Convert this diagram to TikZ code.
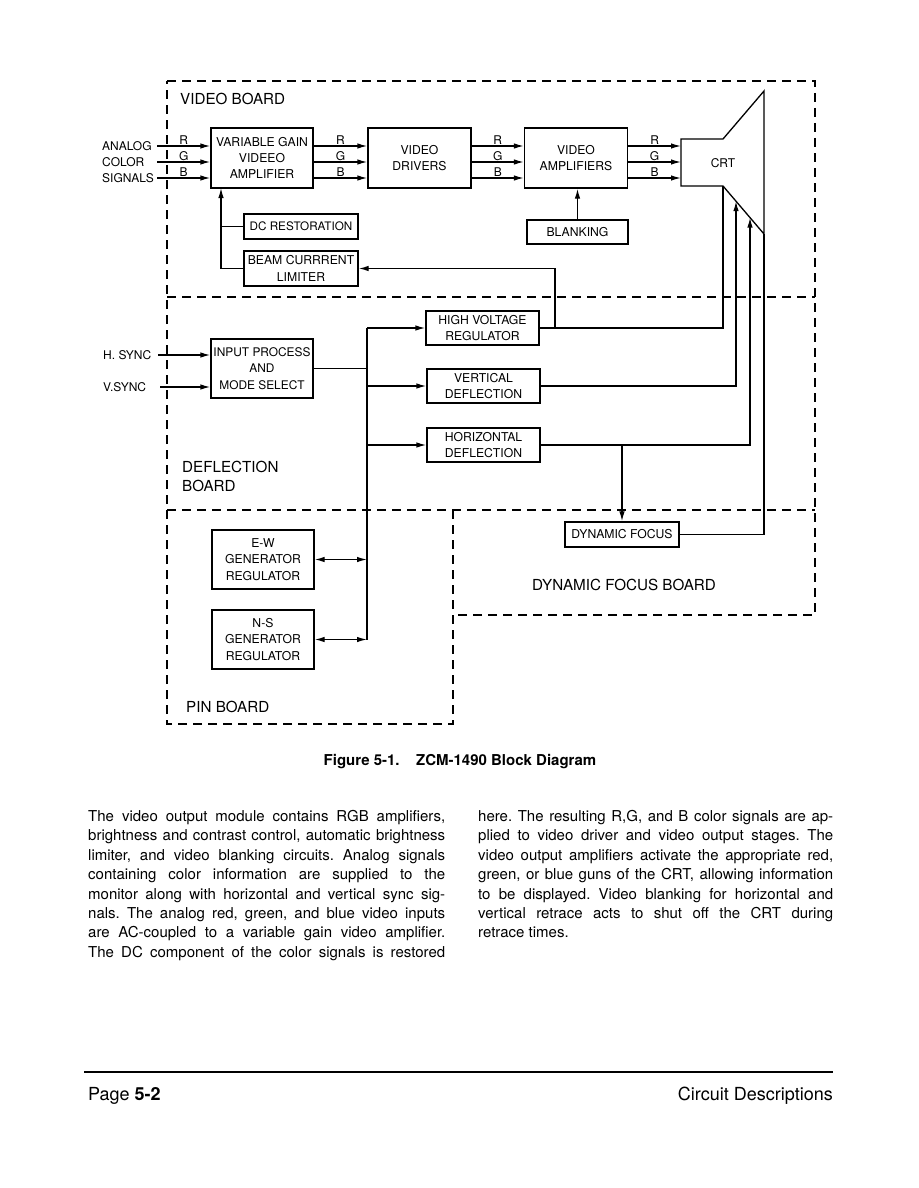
\documentclass[tikz,border=0pt]{standalone}
\usepackage{fontspec}
\setmainfont{TeX Gyre Heros}
\usetikzlibrary{arrows.meta}
\newcommand\myboxfont{\fontsize{12.2}{16.2}\selectfont}
\newcommand\mylblfont{\fontsize{12}{14}\selectfont}
\newcommand\myboardfont{\fontsize{15.2}{19}\selectfont}
\newcommand\mybodyfont{\fontsize{15}{19.4}\selectfont\frenchspacing}
\begin{document}
\begin{tikzpicture}[x=1pt,y=-1pt,
  box/.style={draw, line width=1.3pt, inner sep=0pt, align=center, font=\myboxfont},
  ln/.style={line width=1.3pt},
  arr/.style={ln, -{Latex[length=10pt,width=5.5pt]}},
  darr/.style={ln, {Latex[length=10pt,width=5.5pt]}-{Latex[length=10pt,width=5.5pt]}},
  dsh/.style={line width=2.2pt, dash pattern=on 9pt off 6pt},
  lbl/.style={font=\mylblfont, inner sep=1pt},
  brd/.style={font=\myboardfont, inner sep=0pt, align=left},
]
\useasboundingbox (0,0) rectangle (918,1188);
\fill[white] (0,0) rectangle (918,1188);

% dashed board outlines
\draw[dsh] (167,81) -- (815,81) -- (815,615) -- (453,615);
\draw[dsh] (453,510) -- (453,724) -- (167,724) -- (167,81);
\draw[dsh] (167,297) -- (815,297);
\draw[dsh] (167,510) -- (815,510);

% board labels
\node[brd, anchor=west] (lvid) at (180,99) {VIDEO BOARD};
\node[brd, anchor=west] (ldef) at (182,476.5) {DEFLECTION\\BOARD};
\node[brd, anchor=west] (lpin) at (186,707) {PIN BOARD};
\node[brd] (ldyn) at (624,585) {DYNAMIC FOCUS BOARD};

% blocks
\node[box, minimum width=102, minimum height=60] (vga) at (262,158) {VARIABLE GAIN\\VIDEEO\\AMPLIFIER};
\node[box, minimum width=103, minimum height=60] (vdr) at (419.5,158) {VIDEO\\DRIVERS};
\node[box, minimum width=103, minimum height=60] (vamp) at (576,158) {VIDEO\\AMPLIFIERS};
\node[box, minimum width=101, minimum height=24] (blank) at (577.5,232) {BLANKING};
\node[box, minimum width=114, minimum height=25, font=\fontsize{11.7}{14}\selectfont] (dcr) at (301,226.5) {DC RESTORATION};
\node[box, minimum width=114, minimum height=35] (bcl) at (301,268.5) {BEAM CURRRENT\\LIMITER};
\node[box, minimum width=102, minimum height=59, font=\fontsize{11.9}{16.2}\selectfont] (inp) at (262,368.5) {INPUT PROCESS\\AND\\MODE SELECT};
\node[box, minimum width=113, minimum height=34] (hvr) at (482.5,328) {HIGH VOLTAGE\\REGULATOR};
\node[box, minimum width=113, minimum height=34] (vdef) at (483.5,386) {VERTICAL\\DEFLECTION};
\node[box, minimum width=113, minimum height=34] (hdef) at (483.5,445) {HORIZONTAL\\DEFLECTION};
\node[box, minimum width=114, minimum height=25] (dyf) at (622,534.5) {DYNAMIC FOCUS};
\node[box, minimum width=102, minimum height=59] (ew) at (263,559.5) {E-W\\GENERATOR\\REGULATOR};
\node[box, minimum width=102, minimum height=59] (ns) at (263,639.5) {N-S\\GENERATOR\\REGULATOR};

% CRT
\coordinate (crtA) at (681,139);
\coordinate (crtB) at (723,139);
\coordinate (crtC) at (764,91);
\coordinate (crtD) at (764,234);
\coordinate (crtE) at (723,186);
\coordinate (crtF) at (681,186);
\coordinate (crtIn) at (681,158);
\draw[ln, line join=miter] (crtA) -- (crtB) -- (crtC) -- (crtD) -- (crtE) -- (crtF) -- cycle;
\node[lbl] (crt) at (723,163) {CRT};

% inputs
\node[lbl, anchor=west, inner sep=0] (an) at (102,146) {ANALOG};
\node[lbl, anchor=west, inner sep=0] (co) at (102,162) {COLOR};
\node[lbl, anchor=west, inner sep=0] (si) at (102,178) {SIGNALS};
\coordinate (inL) at (157,158);
\foreach \s/\c in {12/R,-4/G,-20/B} {
  \draw[arr] ([yshift=\s pt]inL) -- ([yshift=\s pt]vga.west) node[midway,above,lbl]{\c};
  \draw[arr] ([yshift=\s pt]vga.east) -- ([yshift=\s pt]vdr.west) node[midway,above,lbl]{\c};
  \draw[arr] ([yshift=\s pt]vdr.east) -- ([yshift=\s pt]vamp.west) node[midway,above,lbl]{\c};
  \draw[arr] ([yshift=\s pt]vamp.east) -- ([yshift=\s pt]crtIn) node[midway,above,lbl]{\c};
}

% feedback to variable gain amplifier
\coordinate (fbTop) at (221,188);
\draw[arr] (bcl.west) -| (fbTop);
\draw[ln] (dcr.west) -- (dcr.west -| fbTop);

% blanking
\draw[arr] (blank.north) -- (blank.north |- vamp.south);

% sync inputs
\node[lbl, anchor=west, inner sep=0] (hs) at (103,355) {H. SYNC};
\node[lbl, anchor=west, inner sep=0] (vs) at (103,387) {V.SYNC};
\coordinate (hsS) at (158,355);
\coordinate (vsS) at (160,387);
\draw[arr] (hsS) -- (hsS -| inp.west);
\draw[arr] (vsS) -- (vsS -| inp.west);

% bus
\coordinate (busT) at (367,328);
\draw[ln] (busT) -- (busT |- ns.east);
\draw[arr] (busT) -- (hvr.west);
\draw[arr] (busT |- vdef.west) -- (vdef.west);
\draw[arr] (busT |- hdef.west) -- (hdef.west);
\draw[ln] (inp.east) -- (inp.east -| busT);
\draw[darr] (ew.east) -- (ew.east -| busT);
\draw[darr] (ns.east) -- (ns.east -| busT);

% to CRT
\coordinate (hvJ) at (555,328);
\draw[arr] (hvJ) |- (bcl.east);
\draw[ln] (hvr.east) -| (crtE);
\coordinate (crtV) at (736,201.2);
\coordinate (crtH) at (750,217.6);
\draw[arr] (vdef.east) -| (crtV);
\draw[arr] (hdef.east) -| (crtH);
\draw[ln] (dyf.east) -| (crtD);
\coordinate (hdJ) at (622,445);
\draw[arr] (hdJ) -- (dyf.north);

% caption
\node[anchor=base, inner sep=0, font=\fontsize{15}{17}\selectfont\bfseries] (cap) at (460,765) {Figure 5-1.\hspace{1.1em}ZCM-1490 Block Diagram};

% body text
\node[anchor=north west, inner sep=0, align=left, font=\mybodyfont] (colL) at (88,810) {%
\makebox[357pt][s]{The video output module contains RGB amplifiers,}\\
\makebox[357pt][s]{brightness and contrast control, automatic brightness}\\
\makebox[357pt][s]{limiter, and video blanking circuits. Analog signals}\\
\makebox[357pt][s]{containing color information are supplied to the}\\
\makebox[357pt][s]{monitor along with horizontal and vertical sync sig-}\\
\makebox[357pt][s]{nals. The analog red, green, and blue video inputs}\\
\makebox[357pt][s]{are AC-coupled to a variable gain video amplifier.}\\
\makebox[357pt][s]{The DC component of the color signals is restored}};
\node[anchor=north west, inner sep=0, align=left, font=\mybodyfont] (colR) at (478,810) {%
\makebox[355pt][s]{here. The resulting R,G, and B color signals are ap-}\\
\makebox[355pt][s]{plied to video driver and video output stages. The}\\
\makebox[355pt][s]{video output amplifiers activate the appropriate red,}\\
\makebox[355pt][s]{green, or blue guns of the CRT, allowing information}\\
\makebox[355pt][s]{to be displayed. Video blanking for horizontal and}\\
\makebox[355pt][s]{vertical retrace acts to shut off the CRT during}\\
retrace times.};

% footer
\coordinate (ruleL) at (84,1072);
\coordinate (ruleR) at (833,1072);
\draw[line width=2pt] (ruleL) -- (ruleR);
\node[anchor=base west, inner sep=0, font=\fontsize{18}{21}\selectfont] (pg) at (88,1100) {Page \textbf{5-2}};
\node[anchor=base east, inner sep=0, font=\fontsize{18}{21}\selectfont] (cd) at (833,1100) {Circuit Descriptions};
\end{tikzpicture}
\end{document}
